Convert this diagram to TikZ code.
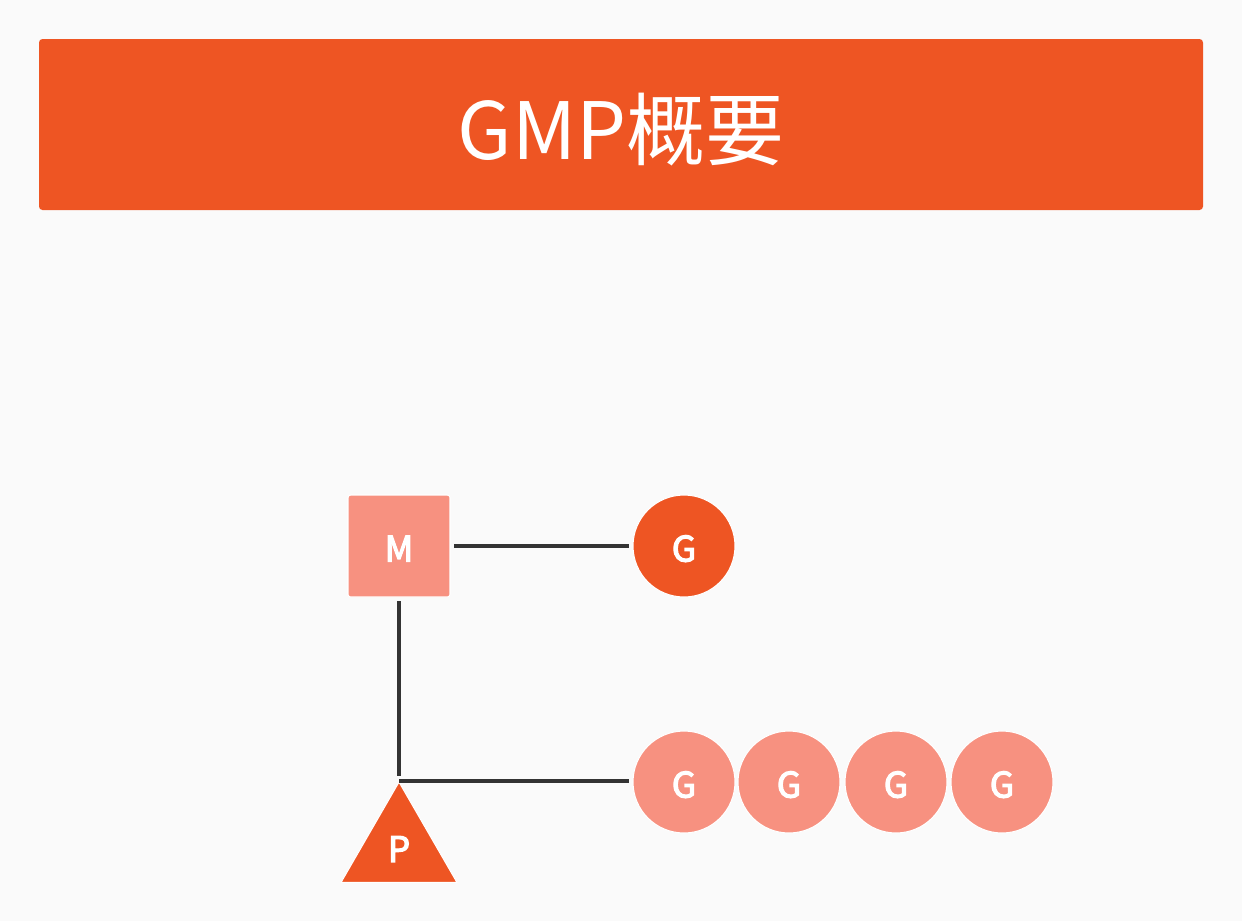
\documentclass[tikz,border=0pt]{standalone}
\usepackage{fontspec}
\setmainfont{Noto Sans CJK SC}
\newfontfamily\labelfont[FakeBold=3.5]{Noto Sans CJK SC}
\usetikzlibrary{shapes.geometric}
\definecolor{bgcol}{HTML}{FAFAFA}
\definecolor{gmporange}{HTML}{EE5523}
\definecolor{gmpsalmon}{HTML}{F79180}
\definecolor{linkgray}{HTML}{333333}
\begin{document}
\begin{tikzpicture}[x=0.02cm, y=-0.02cm,
    shapebase/.style={draw=white, line width=0.6pt, text=white, font=\labelfont\fontsize{20}{20}\selectfont, inner sep=0pt},
    mbox/.style={shapebase, rectangle, rounded corners=1.5pt, fill=gmpsalmon, minimum size=2.04cm, text height=0.62cm, text depth=0pt},
    gball/.style={shapebase, circle, minimum size=2.04cm, text height=0.62cm, text depth=0pt},
    pcone/.style={shapebase, regular polygon, regular polygon sides=3, fill=gmporange, minimum size=2.68cm},
    link/.style={linkgray, line width=2.1pt}]

  % -- background and title bar --
  \fill[bgcol] (0,0) rectangle (1242,921);
  \useasboundingbox (0,0) rectangle (1242,921);
  \fill[gmporange, rounded corners=2pt] (39,39) rectangle (1203,210);
  \node[text=white, font=\fontsize{45}{45}\selectfont] (title) at (621,130) {GMP概要};

  % -- machine and running goroutine --
  \node[mbox] (M) at (399,546) {M};
  \node[gball, fill=gmporange] (Grun) at (684,546) {G};

  % -- processor --
  \node[pcone] (P) at (399,849) {P};

  % -- local queue --
  \foreach \gx [count=\i] in {684,789,896,1002}
    \node[gball, fill=gmpsalmon] (Gq\i) at (\gx,782) {G};

  % -- links --
  \draw[link, shorten <=2pt, shorten >=2pt] (M) -- (Grun);
  \draw[link, shorten <=2pt, shorten >=3pt] (M.south) -- (P.corner 1);
  \draw[link, shorten >=2pt] (P.corner 1) -- (P.corner 1 -| Gq1.west);

\end{tikzpicture}
\end{document}
